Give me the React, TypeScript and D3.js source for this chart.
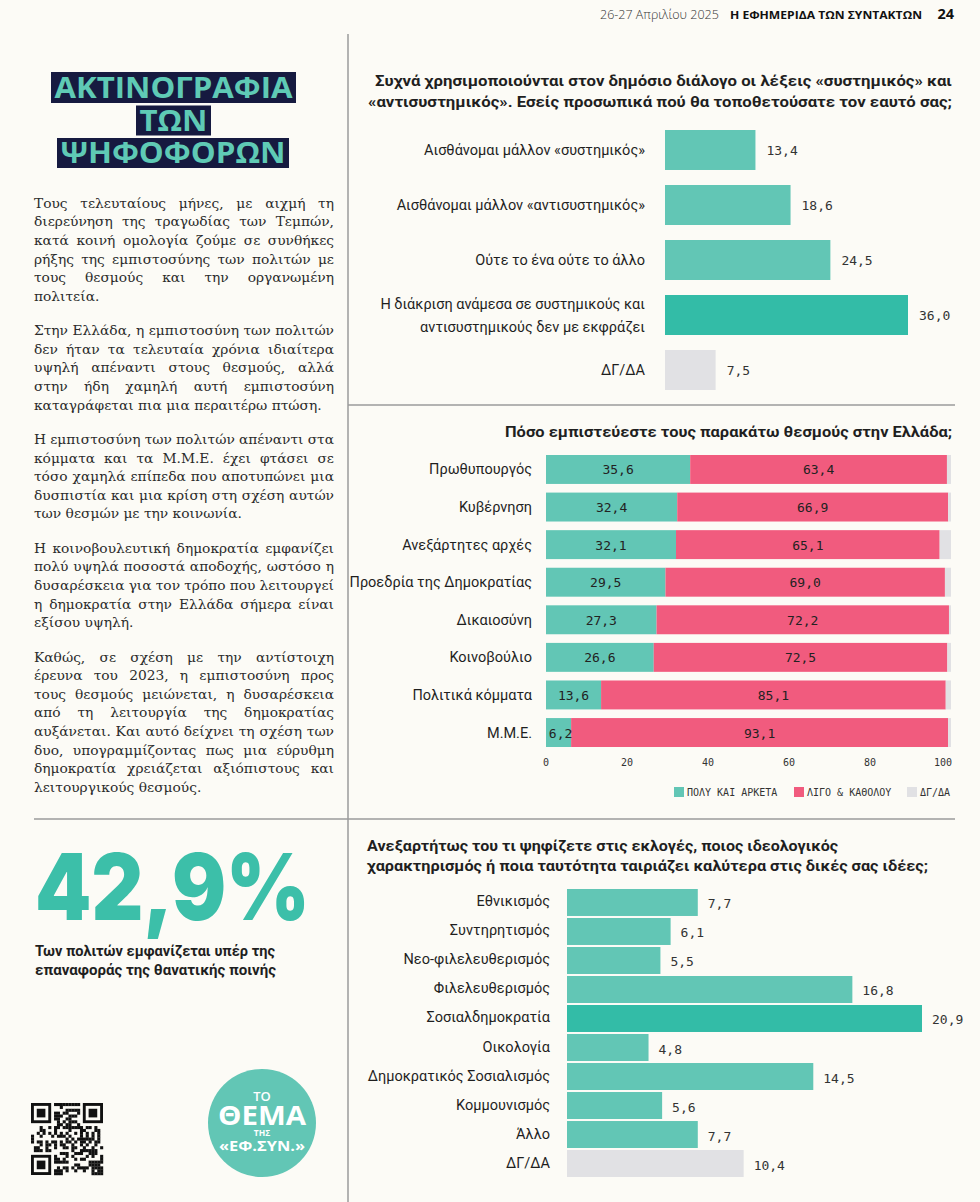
import React, { useEffect, useMemo, useState } from 'react';
import * as d3 from 'd3';

const W = 980;
const H = 1202;

// ---------- header ----------
const headerDate = '26-27 Απριλίου 2025';
const headerPaper = 'Η ΕΦΗΜΕΡΙΔΑ ΤΩΝ ΣΥΝΤΑΚΤΩΝ';
const headerPage = '24';

// ---------- left column ----------
const titleLines = ['ΑΚΤΙΝΟΓΡΑΦΙΑ', 'ΤΩΝ', 'ΨΗΦΟΦΟΡΩΝ'];

const paragraphs: string[][] = [
  [
    'Τους τελευταίους μήνες, με αιχμή τη',
    'διερεύνηση της τραγωδίας των Τεμπών,',
    'κατά κοινή ομολογία ζούμε σε συνθήκες',
    'ρήξης της εμπιστοσύνης των πολιτών με',
    'τους θεσμούς και την οργανωμένη',
    'πολιτεία.',
  ],
  [
    'Στην Ελλάδα, η εμπιστοσύνη των πολιτών',
    'δεν ήταν τα τελευταία χρόνια ιδιαίτερα',
    'υψηλή απέναντι στους θεσμούς, αλλά',
    'στην ήδη χαμηλή αυτή εμπιστοσύνη',
    'καταγράφεται πια μια περαιτέρω πτώση.',
  ],
  [
    'Η εμπιστοσύνη των πολιτών απέναντι στα',
    'κόμματα και τα Μ.Μ.Ε. έχει φτάσει σε',
    'τόσο χαμηλά επίπεδα που αποτυπώνει μια',
    'δυσπιστία και μια κρίση στη σχέση αυτών',
    'των θεσμών με την κοινωνία.',
  ],
  [
    'Η κοινοβουλευτική δημοκρατία εμφανίζει',
    'πολύ υψηλά ποσοστά αποδοχής, ωστόσο η',
    'δυσαρέσκεια για τον τρόπο που λειτουργεί',
    'η δημοκρατία στην Ελλάδα σήμερα είναι',
    'εξίσου υψηλή.',
  ],
  [
    'Καθώς, σε σχέση με την αντίστοιχη',
    'έρευνα του 2023, η εμπιστοσύνη προς',
    'τους θεσμούς μειώνεται, η δυσαρέσκεια',
    'από τη λειτουργία της δημοκρατίας',
    'αυξάνεται. Και αυτό δείχνει τη σχέση των',
    'δυο, υπογραμμίζοντας πως μια εύρυθμη',
    'δημοκρατία χρειάζεται αξιόπιστους και',
    'λειτουργικούς θεσμούς.',
  ],
];

const statValue = '42,9%';
const statText = ['Των πολιτών εμφανίζεται υπέρ της', 'επαναφοράς της θανατικής ποινής'];
const logoLines = ['ΤΟ', 'ΘΕΜΑ', 'ΤΗΣ', '«ΕΦ.ΣΥΝ.»'];

// ---------- chart 1 ----------
const c1Title = [
  'Συχνά χρησιμοποιούνται στον δημόσιο διάλογο οι λέξεις «συστημικός» και',
  '«αντισυστημικός». Εσείς προσωπικά πού θα τοποθετούσατε τον εαυτό σας;',
];
const c1Cats = [
  'Αισθάνομαι μάλλον «συστημικός»',
  'Αισθάνομαι μάλλον «αντισυστημικός»',
  'Ούτε το ένα ούτε το άλλο',
  'Η διάκριση ανάμεσα σε συστημικούς και\nαντισυστημικούς δεν με εκφράζει',
  'ΔΓ/ΔΑ',
];
const c1Vals = [13.4, 18.6, 24.5, 36.0, 7.5];

// ---------- chart 2 ----------
const c2Title = 'Πόσο εμπιστεύεστε τους παρακάτω θεσμούς στην Ελλάδα;';
const c2Cats = [
  'Πρωθυπουργός',
  'Κυβέρνηση',
  'Ανεξάρτητες αρχές',
  'Προεδρία της Δημοκρατίας',
  'Δικαιοσύνη',
  'Κοινοβούλιο',
  'Πολιτικά κόμματα',
  'Μ.Μ.Ε.',
];
const c2Poly = [35.6, 32.4, 32.1, 29.5, 27.3, 26.6, 13.6, 6.2];
const c2Ligo = [63.4, 66.9, 65.1, 69.0, 72.2, 72.5, 85.1, 93.1];
const c2Dk = [1.0, 0.7, 2.8, 1.5, 0.5, 0.9, 1.3, 0.7];
const c2Legend = ['ΠΟΛΥ ΚΑΙ ΑΡΚΕΤΑ', 'ΛΙΓΟ & ΚΑΘΟΛΟΥ', 'ΔΓ/ΔΑ'];
const c2Ticks = [0, 20, 40, 60, 80, 100];

// ---------- chart 3 ----------
const c3Title = [
  'Ανεξαρτήτως του τι ψηφίζετε στις εκλογές, ποιος ιδεολογικός',
  'χαρακτηρισμός ή ποια ταυτότητα ταιριάζει καλύτερα στις δικές σας ιδέες;',
];
const c3Cats = [
  'Εθνικισμός',
  'Συντηρητισμός',
  'Νεο-φιλελευθερισμός',
  'Φιλελευθερισμός',
  'Σοσιαλδημοκρατία',
  'Οικολογία',
  'Δημοκρατικός Σοσιαλισμός',
  'Κομμουνισμός',
  'Άλλο',
  'ΔΓ/ΔΑ',
];
const c3Vals = [7.7, 6.1, 5.5, 16.8, 20.9, 4.8, 14.5, 5.6, 7.7, 10.4];

// ---------- styles ----------
const BG = '#fcfbf6';
const TEAL = '#62c6b5';
const TEAL_DARK = '#33bca7';
const PINK = '#f15b7e';
const GREY = '#e1e1e4';
const NAVY = '#161a40';
const INK = '#1f1f1f';
const RULE = '#9b9b9b';
const SANS = 'Roboto, "Noto Sans", sans-serif';
const MONO = '"DejaVu Sans Mono", "Liberation Mono", monospace';
const SERIF = '"DejaVu Serif", "Liberation Serif", serif';

const fmt = (v: number) => v.toFixed(1).replace('.', ',');

function useMeasurer() {
  const [, setTick] = useState(0);
  useEffect(() => {
    const f = (document as any).fonts;
    if (f && f.ready) f.ready.then(() => setTick((t) => t + 1));
  }, []);
  const ctx = useMemo(() => document.createElement('canvas').getContext('2d') as CanvasRenderingContext2D, []);
  return (text: string, font: string) => {
    ctx.font = font;
    return ctx.measureText(text).width;
  };
}

function BodyText({ measure }: { measure: (t: string, f: string) => number }) {
  const left = 34;
  const colW = 300;
  const probe = paragraphs[1][paragraphs[1].length - 1];
  const base = measure(probe, `13px ${SERIF}`);
  const fs = Math.max(11.5, Math.min(15, (13 * 288) / (base || 288)));
  const font = `${fs}px ${SERIF}`;
  const lh = 18.6;
  const paraGap = 34.4;
  const out: React.ReactNode[] = [];
  let y = 203;
  paragraphs.forEach((p, pi) => {
    p.forEach((line, li) => {
      const last = li === p.length - 1;
      const n = line.split(' ').length;
      let ws = 0;
      if (!last && n > 1) {
        const w = measure(line, font);
        ws = (colW - w) / (n - 1);
      }
      out.push(
        <text key={`${pi}-${li}`} x={left} y={y + 4.8} style={{ font, wordSpacing: `${ws}px` }} fill="#2b2b2b">
          {line}
        </text>
      );
      if (!last) y += lh;
    });
    y += paraGap;
  });
  return <g>{out}</g>;
}

function QR({ x, y, size }: { x: number; y: number; size: number }) {
  const n = 25;
  const m = size / n;
  const cells: React.ReactNode[] = [];
  const inFinder = (r: number, c: number) =>
    (r < 8 && c < 8) || (r < 8 && c >= n - 8) || (r >= n - 8 && c < 8);
  for (let r = 0; r < n; r++) {
    for (let c = 0; c < n; c++) {
      if (inFinder(r, c)) continue;
      const h = (r * 37 + c * 91 + r * c * 11 + ((r * c) % 5) * 17) % 13;
      if (h < 6)
        cells.push(<rect key={`${r}-${c}`} x={x + c * m} y={y + r * m} width={m + 0.2} height={m + 0.2} fill="#111" />);
    }
  }
  const finder = (fx: number, fy: number, k: string) => (
    <g key={k}>
      <rect x={fx} y={fy} width={7 * m} height={7 * m} fill="#111" />
      <rect x={fx + m} y={fy + m} width={5 * m} height={5 * m} fill={BG} />
      <rect x={fx + 2 * m} y={fy + 2 * m} width={3 * m} height={3 * m} fill="#111" />
    </g>
  );
  return (
    <g>
      {cells}
      {finder(x, y, 'a')}
      {finder(x + (n - 7) * m, y, 'b')}
      {finder(x, y + (n - 7) * m, 'c')}
    </g>
  );
}

export default function App() {
  const measure = useMeasurer();

  // chart 1
  const x1 = d3.scaleLinear().domain([0, 36]).range([665, 908]);
  const y1 = d3.scaleBand<string>().domain(c1Cats).range([130, 390]).paddingInner(0.273);
  const c1Max = d3.max(c1Vals) as number;

  // chart 2
  const x2 = d3.scaleLinear().domain([0, 100]).range([546, 951]);
  const y2 = d3.scaleBand<string>().domain(c2Cats).range([455, 747]).paddingInner(0.23);
  const c2Rows = c2Cats.map((cat, i) => ({ cat, poly: c2Poly[i], ligo: c2Ligo[i], dk: c2Dk[i] }));
  const stack = d3.stack<any>().keys(['poly', 'ligo', 'dk'])(c2Rows);
  const c2Colors = [TEAL, PINK, GREY];

  // chart 3
  const x3 = d3.scaleLinear().domain([0, 20.9]).range([567, 922]);
  const y3 = d3.scaleBand<string>().domain(c3Cats).range([889, 1177]).paddingInner(0.07);
  const c3Max = d3.max(c3Vals) as number;

  const titleBoxes = [
    { x: 51, y: 72, w: 245, h: 31 },
    { x: 136, y: 105.5, w: 75, h: 30 },
    { x: 57, y: 138, w: 232, h: 30 },
  ];

  return (
    <svg width={W} height={H} viewBox={`0 0 ${W} ${H}`} style={{ position: 'absolute', left: 0, top: 0, display: 'block' }}>
      <rect x={0} y={0} width={W} height={H} fill={BG} />

      {/* header */}
      <text x={600} y={18.5} style={{ font: `300 12.5px "Open Sans", sans-serif` }} fill="#333">{headerDate}</text>
      <text x={730} y={18.5} style={{ font: `700 11px "Open Sans", sans-serif` }} fill="#111" textLength={192} lengthAdjust="spacingAndGlyphs">{headerPaper}</text>
      <text x={954} y={19} textAnchor="end" style={{ font: `700 14.5px "Open Sans", sans-serif` }} fill="#111">{headerPage}</text>

      {/* rules */}
      <line x1={348} x2={348} y1={34} y2={H} stroke={RULE} strokeWidth={1.5} />
      <line x1={348} x2={955} y1={405} y2={405} stroke={RULE} strokeWidth={1.5} />
      <line x1={34} x2={955} y1={819} y2={819} stroke={RULE} strokeWidth={1.5} />

      {/* title boxes */}
      {titleLines.map((t, i) => {
        const b = titleBoxes[i];
        return (
          <g key={t}>
            <rect x={b.x} y={b.y} width={b.w} height={b.h} fill={NAVY} />
            <text
              x={b.x + b.w / 2}
              y={b.y + b.h - 5}
              textAnchor="middle"
              style={{ font: `700 29px "Open Sans", sans-serif` }}
              fill="#5fcab5"
              textLength={b.w - 7}
              lengthAdjust="spacingAndGlyphs"
            >
              {t}
            </text>
          </g>
        );
      })}

      <BodyText measure={measure} />

      {/* big stat */}
      <text x={35} y={920} style={{ font: `900 92px Inter, sans-serif` }} fill="#3cbfa9" textLength={275} lengthAdjust="spacingAndGlyphs">{statValue}</text>
      {statText.map((t, i) => (
        <text key={t} x={35} y={956 + i * 18.5} style={{ font: `700 14px ${SANS}` }} fill={INK} textLength={i === 0 ? 240 : 241} lengthAdjust="spacingAndGlyphs">{t}</text>
      ))}

      <QR x={31} y={1103} size={72} />

      {/* logo */}
      <circle cx={262} cy={1123} r={54} fill={TEAL} />
      <text x={262} y={1101} textAnchor="middle" style={{ font: `600 13px "Open Sans", sans-serif` }} fill="#fff">{logoLines[0]}</text>
      <text x={262} y={1125} textAnchor="middle" style={{ font: `700 27px "Open Sans", sans-serif` }} fill="#fff" textLength={88} lengthAdjust="spacingAndGlyphs">{logoLines[1]}</text>
      <text x={262} y={1135.5} textAnchor="middle" style={{ font: `700 8.5px "Open Sans", sans-serif` }} fill="#fff">{logoLines[2]}</text>
      <text x={262} y={1151} textAnchor="middle" style={{ font: `700 14px "Open Sans", sans-serif` }} fill="#fff" textLength={86} lengthAdjust="spacingAndGlyphs">{logoLines[3]}</text>

      {/* ---------- chart 1 ---------- */}
      {c1Title.map((t, i) => (
        <text key={t} x={952} y={86 + i * 21} textAnchor="end" style={{ font: `700 15px ${SANS}` }} fill={INK} textLength={i === 0 ? 577 : 584} lengthAdjust="spacingAndGlyphs">{t}</text>
      ))}
      {c1Cats.map((cat, i) => {
        const v = c1Vals[i];
        const y = y1(cat) as number;
        const bh = y1.bandwidth();
        const fill = cat === 'ΔΓ/ΔΑ' ? GREY : v === c1Max ? TEAL_DARK : TEAL;
        const lines = cat.split('\n');
        const cy = y + bh / 2;
        return (
          <g key={cat}>
            <rect x={x1(0)} y={y} width={x1(v) - x1(0)} height={bh} fill={fill} />
            {lines.map((l, li) => (
              <text key={l} x={645} y={cy + 5 + (li - (lines.length - 1) / 2) * 23} textAnchor="end" style={{ font: `400 14.5px ${SANS}` }} fill={INK}>{l}</text>
            ))}
            <text x={x1(v) + 11} y={cy + 5} style={{ font: `13px ${MONO}` }} fill="#333">{fmt(v)}</text>
          </g>
        );
      })}

      {/* ---------- chart 2 ---------- */}
      <text x={952} y={437} textAnchor="end" style={{ font: `700 15px ${SANS}` }} fill={INK} textLength={447} lengthAdjust="spacingAndGlyphs">{c2Title}</text>
      {stack.map((layer, li) => (
        <g key={layer.key}>
          {layer.map((d, i) => (
            <rect key={i} x={x2(d[0])} y={y2(c2Cats[i]) as number} width={x2(d[1]) - x2(d[0])} height={y2.bandwidth()} fill={c2Colors[li]} />
          ))}
        </g>
      ))}
      {stack.slice(0, 2).map((layer) => (
        <g key={'l' + layer.key}>
          {layer.map((d, i) => (
            <text key={i} x={(x2(d[0]) + x2(d[1])) / 2 + (d[1] - d[0] < 10 ? 2 : 0)} y={(y2(c2Cats[i]) as number) + y2.bandwidth() / 2 + 5} textAnchor="middle" style={{ font: `13px ${MONO}` }} fill="#222">{fmt(d[1] - d[0])}</text>
          ))}
        </g>
      ))}
      {c2Cats.map((cat) => (
        <text key={cat} x={532} y={(y2(cat) as number) + y2.bandwidth() / 2 + 5} textAnchor="end" style={{ font: `400 14.5px ${SANS}` }} fill={INK}>{cat}</text>
      ))}
      {c2Ticks.map((t, i) => (
        <text key={t} x={x2(t) + (i === c2Ticks.length - 1 ? 1 : 0)} y={766} textAnchor={i === c2Ticks.length - 1 ? 'end' : 'middle'} style={{ font: `10px ${MONO}` }} fill="#333">{t}</text>
      ))}
      {c2Legend.map((l, i) => {
        const lx = [674, 794, 907][i];
        return (
          <g key={l}>
            <rect x={lx} y={787} width={10} height={10} fill={c2Colors[i]} />
            <text x={lx + 13} y={796} style={{ font: `10px ${MONO}` }} fill="#333">{l}</text>
          </g>
        );
      })}

      {/* ---------- chart 3 ---------- */}
      {c3Title.map((t, i) => (
        <text key={t} x={367} y={851 + i * 20} style={{ font: `700 15px ${SANS}` }} fill={INK} textLength={i === 0 ? 471 : 561} lengthAdjust="spacingAndGlyphs">{t}</text>
      ))}
      {c3Cats.map((cat, i) => {
        const v = c3Vals[i];
        const y = y3(cat) as number;
        const bh = y3.bandwidth();
        const fill = cat === 'ΔΓ/ΔΑ' ? GREY : v === c3Max ? TEAL_DARK : TEAL;
        const cy = y + bh / 2;
        return (
          <g key={cat}>
            <rect x={x3(0)} y={y} width={x3(v) - x3(0)} height={bh} fill={fill} />
            <text x={550} y={cy + 4} textAnchor="end" style={{ font: `400 14.5px ${SANS}` }} fill={INK}>{cat}</text>
            <text x={x3(v) + 10} y={cy + 6} style={{ font: `13px ${MONO}` }} fill="#333">{fmt(v)}</text>
          </g>
        );
      })}
    </svg>
  );
}
